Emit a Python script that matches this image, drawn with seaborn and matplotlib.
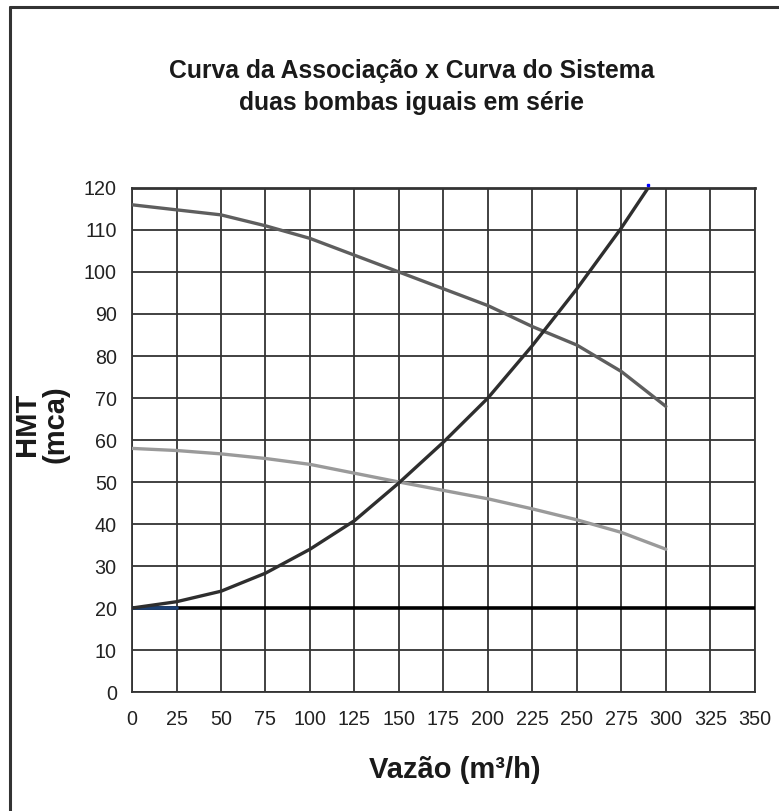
import seaborn as sns
import matplotlib.pyplot as plt
import pandas as pd
import numpy as np

# Dados
vazao = [0, 25, 50, 75, 100, 125, 150, 175, 200, 225, 250, 275, 300]
hmt_uma_bomba = [58, 57.5, 56.7, 55.6, 54.2, 52.1, 50, 48, 46, 43.6, 41, 38, 34]
hmt_associacao = [116, 114.8, 113.6, 111, 108, 104, 100, 96, 92, 87, 82.6, 76.3, 68]

vazao_sistema = [0, 25, 50, 75, 100, 125, 150, 175, 200, 225, 250, 275, 290]
hmt_sistema = [20, 21.5, 24, 28.3, 34, 40.8, 49.8, 59.5, 70, 82.5, 96, 110.5, 120]

vazao_estatica = [0, 350]
hmt_estatica = [20, 20]

vazao_azul = [0, 25]
hmt_azul = [20, 20]

x_ticks = [0, 25, 50, 75, 100, 125, 150, 175, 200, 225, 250, 275, 300, 325, 350]
y_ticks = [0, 10, 20, 30, 40, 50, 60, 70, 80, 90, 100, 110, 120]

sns.set_style("white")
plt.rcParams['font.family'] = ['Liberation Sans', 'DejaVu Sans']

df_bomba = pd.DataFrame({"vazao": vazao, "uma": hmt_uma_bomba, "assoc": hmt_associacao})
df_sist = pd.DataFrame({"vazao": vazao_sistema, "hmt": hmt_sistema})

fig = plt.figure(figsize=(7.79, 8.11), dpi=100)
ax = fig.add_axes([0.1695, 0.1467, 0.7995, 0.6215])

sns.lineplot(data=df_bomba, x="vazao", y="uma", ax=ax, color="#9a9a9a", linewidth=2.4, zorder=4)
sns.lineplot(data=df_bomba, x="vazao", y="assoc", ax=ax, color="#5e5e5e", linewidth=2.4, zorder=4)
ax.plot(vazao_estatica, hmt_estatica, color="black", linewidth=2.6, zorder=5)
ax.plot(vazao_azul, hmt_azul, color="#1b3f73", linewidth=2.6, zorder=6)
sns.lineplot(data=df_sist, x="vazao", y="hmt", ax=ax, color="#2e2e2e", linewidth=2.4, zorder=7)
ax.plot([vazao_sistema[-1]], [hmt_sistema[-1] + 0.7], marker="s", markersize=2, color="blue",
        zorder=8, clip_on=False)

ax.set_xlim(0, 350)
ax.set_ylim(0, 120)
ax.set_xticks(x_ticks)
ax.set_yticks(y_ticks)
ax.grid(True, color="#333333", linewidth=1.3)
ax.set_axisbelow(True)
for s in ax.spines.values():
    s.set_color("#333333")
    s.set_linewidth(1.3)
ax.spines["top"].set_linewidth(2)
ax.tick_params(axis="both", length=0, labelsize=14.2, colors="#222222")
ax.tick_params(axis="x", pad=13)
ax.tick_params(axis="y", pad=11)
ax.set_xlabel("")
ax.set_ylabel("")

fig.text(0.528, 0.893, "Curva da Associação x Curva do Sistema\nduas bombas iguais em série",
         ha="center", va="center", fontsize=17.8, fontweight="bold", color="#1a1a1a",
         linespacing=1.45)
fig.text(0.584, 0.051, "Vazão (m³/h)", ha="center", va="center", fontsize=21,
         fontweight="bold", color="#1a1a1a")
fig.text(0.053, 0.477, "HMT\n(mca)", ha="center", va="center", rotation=90, fontsize=21,
         fontweight="bold", color="#1a1a1a", linespacing=1.05)

# moldura externa (só esquerda e topo visíveis)
fig.add_artist(plt.Line2D([0.0122, 0.0122], [0, 0.9915], color="#333333", linewidth=2.2,
                          transform=fig.transFigure))
fig.add_artist(plt.Line2D([0.0122, 1], [0.9915, 0.9915], color="#333333", linewidth=2.2,
                          transform=fig.transFigure))

fig.savefig("out.png", dpi=100)
